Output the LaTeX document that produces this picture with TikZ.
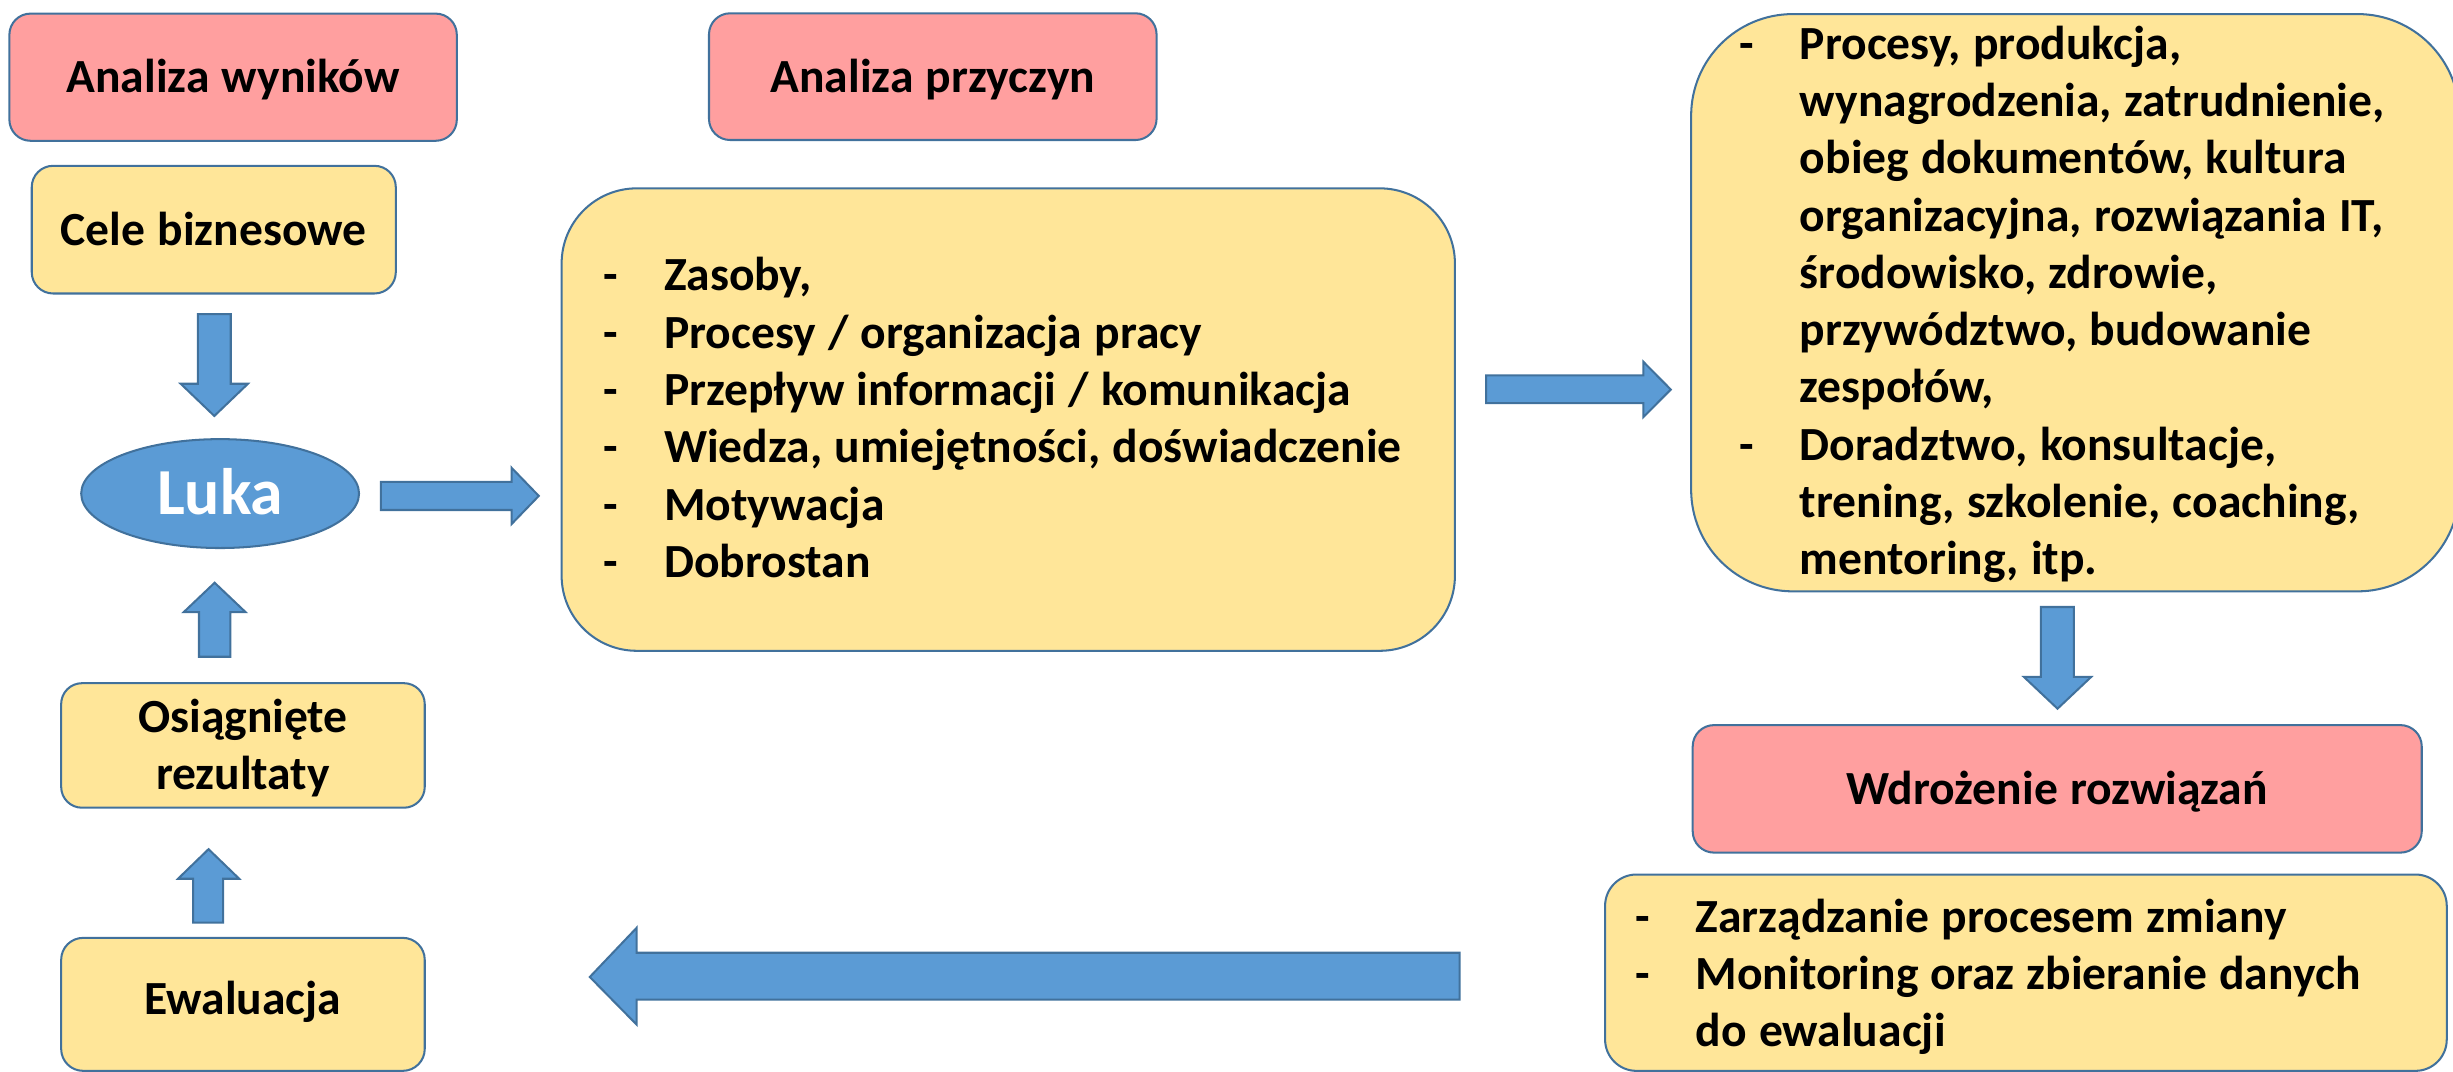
\documentclass[tikz,border=0pt]{standalone}
\usepackage{fontspec}
\setmainfont{Carlito}
\usetikzlibrary{shapes.geometric}
\definecolor{pinkfill}{RGB}{255,159,159}
\definecolor{yellowfill}{RGB}{255,230,153}
\definecolor{edgeblue}{RGB}{65,113,156}
\definecolor{arrowblue}{RGB}{91,155,213}
\newcommand\dashitem{\makebox[38.8pt][l]{-}}
\newcommand\indentline{\hspace*{38.8pt}}
\newcommand\listsetup{\spaceskip=0pt\xspaceskip=0pt\relax}
\newcommand\boxfont{\fontsize{30.4}{36.6}\selectfont\bfseries\fontdimen2\font=7.8pt\relax}
\begin{document}
\begin{tikzpicture}[x=1pt,y=-1pt,
  box/.style={draw=edgeblue, line width=1.3pt, inner sep=0pt,
    font=\boxfont, text height=20pt, text depth=0pt},
  pinkbox/.style={box, fill=pinkfill},
  yellowbox/.style={box, fill=yellowfill},
  listbox/.style={yellowbox, align=left},
  blockarrow/.style={draw=edgeblue, line width=1.3pt, fill=arrowblue, line join=miter},
]
\useasboundingbox (0,0) rectangle (1568,685);

% left column
\node[pinkbox, rounded corners=13.5pt, minimum width=286pt, minimum height=81.3pt] (wyniki) at (149,49.35) {Analiza wyników};
\node[yellowbox, rounded corners=13.6pt, minimum width=232.7pt, minimum height=81.6pt] (cele) at (136.65,146.8) {Cele biznesowe};
\node[ellipse, draw=edgeblue, line width=1.3pt, fill=arrowblue, inner sep=0pt, minimum width=177.6pt, minimum height=69.6pt,
  text=white, font=\fontsize{42}{50}\selectfont\bfseries, text height=26.2pt, text depth=0pt] (luka) at (140.7,315.5) {Luka};
\node[yellowbox, rounded corners=13.3pt, minimum width=232.4pt, minimum height=79.6pt, text width=200pt, align=center,
  text height=19.6pt, text depth=36.6pt] (osiag) at (155.3,476.5) {Osiągnięte\\rezultaty};
\node[yellowbox, rounded corners=14pt, minimum width=232.4pt, minimum height=85pt, text height=13.2pt] (ewal) at (155.3,642) {Ewaluacja};

% middle
\node[pinkbox, rounded corners=13.5pt, minimum width=286.1pt, minimum height=81pt] (przyczyny) at (596.25,49) {Analiza przyczyn};
\node[listbox, rounded corners=48pt, minimum width=571pt, minimum height=295.6pt, text width=517.6pt,
  text height=26.6pt, text depth=191pt] (lista) at (644.5,268.2)
  {\listsetup\mbox{\dashitem Zasoby,}\\
   \mbox{\dashitem Procesy / organizacja pracy}\\
   \mbox{\dashitem Przepływ informacji / komunikacja}\\
   \mbox{\dashitem Wiedza, umiejętności, doświadczenie}\\
   \mbox{\dashitem Motywacja}\\
   \mbox{\dashitem Dobrostan}};

% right
\node[listbox, rounded corners=65pt, minimum width=491pt, minimum height=369pt, text width=429.6pt,
  text height=26.2pt, text depth=337.4pt] (rozw) at (1326.5,193.5)
  {\listsetup\mbox{\dashitem Procesy, produkcja,}\\
   \mbox{\indentline wynagrodzenia, zatrudnienie,}\\
   \mbox{\indentline obieg dokumentów, kultura}\\
   \mbox{\indentline organizacyjna, rozwiązania IT,}\\
   \mbox{\indentline środowisko, zdrowie,}\\
   \mbox{\indentline przywództwo, budowanie}\\
   \mbox{\indentline zespołów,}\\
   \mbox{\dashitem Doradztwo, konsultacje,}\\
   \mbox{\indentline trening, szkolenie, coaching,}\\
   \mbox{\indentline mentoring, itp.}};
\node[pinkbox, rounded corners=13.6pt, minimum width=466pt, minimum height=81.5pt] (wdroz) at (1315,504.25) {Wdrożenie rozwiązań};
\node[listbox, rounded corners=20pt, minimum width=538pt, minimum height=125.5pt, text width=499.6pt,
  text height=29.7pt, text depth=81.2pt] (monit) at (1295,621.75)
  {\listsetup\mbox{\dashitem Zarządzanie procesem zmiany}\\
   \mbox{\dashitem Monitoring oraz zbieranie danych}\\
   \mbox{\indentline do ewaluacji}};

% block arrows
% cele -> luka (down)
\draw[blockarrow] (126.5,200.8) -- (147.5,200.8) -- (147.5,245.3) -- (158.5,245.3) -- (137,265.9) -- (115.5,245.3) -- (126.5,245.3) -- cycle;
% luka -> lista (right)
\draw[blockarrow] (243.4,308) -- (327,308) -- (327,299) -- (344.4,317) -- (327,335) -- (327,326) -- (243.4,326) -- cycle;
% osiag -> luka (up)
\draw[blockarrow] (127.2,419.8) -- (127.2,391.3) -- (117.4,391.3) -- (137.2,372.5) -- (157,391.3) -- (147.3,391.3) -- (147.3,419.8) -- cycle;
% ewal -> osiag (up)
\draw[blockarrow] (123.5,589.8) -- (123.5,561.7) -- (113.8,561.7) -- (133.3,542.8) -- (152.9,561.7) -- (142.6,561.7) -- (142.6,589.8) -- cycle;
% lista -> rozw (right)
\draw[blockarrow] (950,240) -- (1050.5,240) -- (1050.5,231.3) -- (1068,249) -- (1050.5,266.6) -- (1050.5,257.7) -- (950,257.7) -- cycle;
% rozw -> wdroz (down)
\draw[blockarrow] (1304.6,388) -- (1325.6,388) -- (1325.6,432.7) -- (1336.7,432.7) -- (1315.2,453) -- (1293.7,432.7) -- (1304.6,432.7) -- cycle;
% monit -> ewal (left)
\draw[blockarrow] (933,609) -- (407,609) -- (407,593) -- (377,624.5) -- (407,655) -- (407,639) -- (933,639) -- cycle;
\end{tikzpicture}
\end{document}
